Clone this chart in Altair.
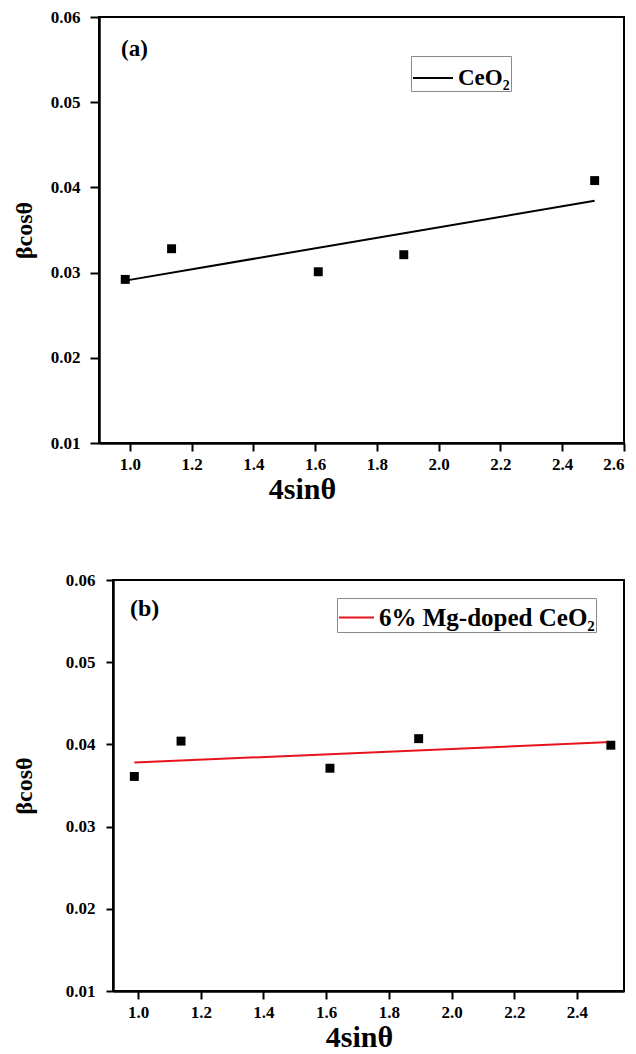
import altair as alt
import pandas as pd

# Williamson-Hall plots: 4 sin(theta) against beta cos(theta)
four_sin_ceo2 = [0.985, 1.135, 1.610, 1.887, 2.505]
beta_cos_ceo2 = [0.0292, 0.0328, 0.0301, 0.0321, 0.0408]
four_sin_mg = [0.988, 1.137, 1.612, 1.895, 2.508]
beta_cos_mg = [0.0361, 0.0404, 0.0371, 0.0407, 0.0399]

series_names = ["CeO₂", "6% Mg-doped CeO₂"]
series_colors = ["black", "#e8141c"]
panel_tags = ["(a)", "(b)"]

x_ticks_a = [1.0, 1.2, 1.4, 1.6, 1.8, 2.0, 2.2, 2.4, 2.6]
x_ticks_b = [1.0, 1.2, 1.4, 1.6, 1.8, 2.0, 2.2, 2.4]
y_ticks = [0.01, 0.02, 0.03, 0.04, 0.05, 0.06]
x_domain_a = [0.9, 2.6]
x_domain_b = [0.92, 2.55]
y_domain = [0.01, 0.06]

FONT = "Liberation Serif"


def panel(xs, ys, name, color, tag, x_domain, x_ticks, width, height,
          tick_y, lab_pad_y, title_pad_y, title_x, legend_xy, legend_font,
          legend_sym, legend_pad, tag_xy, tag_size):
    df = pd.DataFrame({"x": xs, "y": ys, "series": [name] * len(xs)})
    x_scale = alt.Scale(domain=x_domain, nice=False, zero=False)
    y_scale = alt.Scale(domain=y_domain, nice=False, zero=False)
    x_axis = alt.Axis(values=x_ticks, format=".1f", title="4sinθ",
                      tickSize=8, labelPadding=5, titlePadding=2,
                      titleFontSize=30, titleX=title_x)
    y_axis = alt.Axis(values=y_ticks, format=".2f", title="βcosθ",
                      tickSize=tick_y, labelPadding=lab_pad_y,
                      titlePadding=title_pad_y, titleFontSize=24)
    base = alt.Chart(df)

    points = base.mark_square(size=80, color="black", opacity=1).encode(
        x=alt.X("x:Q", scale=x_scale, axis=x_axis),
        y=alt.Y("y:Q", scale=y_scale, axis=y_axis),
    )

    fit = base.transform_regression(
        "x", "y", groupby=["series"]
    ).mark_line(strokeWidth=2).encode(
        x=alt.X("x:Q", scale=x_scale),
        y=alt.Y("y:Q", scale=y_scale),
        color=alt.Color(
            "series:N",
            scale=alt.Scale(domain=[name], range=[color]),
            legend=alt.Legend(
                orient="none", legendX=legend_xy[0], legendY=legend_xy[1],
                title=None, symbolType="stroke", symbolStrokeWidth=2,
                symbolSize=legend_sym, labelFont=FONT,
                labelFontSize=legend_font, labelFontWeight="bold",
                labelColor="black", strokeColor="#8a8a8a", fillColor="white",
                padding=legend_pad, labelOffset=4, labelLimit=400,
            ),
        ),
    )

    label = alt.Chart(pd.DataFrame({"tag": [tag]})).mark_text(
        align="left", baseline="middle", font=FONT, fontSize=tag_size,
        fontWeight="bold", color="black",
    ).encode(x=alt.value(tag_xy[0]), y=alt.value(tag_xy[1]), text="tag:N")

    return alt.layer(fit, points, label).properties(width=width, height=height)


def indent(chart, gap):
    # blank column that sets how far the panel sits from the left edge
    blank = alt.Chart(pd.DataFrame({"v": [0]})).mark_point(opacity=0).properties(
        width=gap, height=1, view=alt.ViewConfig(stroke="transparent")
    )
    return alt.hconcat(blank, chart, spacing=0).resolve_scale(
        color="independent"
    ).resolve_legend(color="independent")


panel_a = panel(four_sin_ceo2, beta_cos_ceo2, series_names[0], series_colors[0],
                panel_tags[0], x_domain_a, x_ticks_a, 525, 426,
                tick_y=9, lab_pad_y=10, title_pad_y=14, title_x=203,
                legend_xy=(312, 39), legend_font=23, legend_sym=1600,
                legend_pad=1, tag_xy=(22, 32), tag_size=23)

panel_b = panel(four_sin_mg, beta_cos_mg, series_names[1], series_colors[1],
                panel_tags[1], x_domain_b, x_ticks_b, 511, 411,
                tick_y=7, lab_pad_y=11, title_pad_y=29, title_x=246,
                legend_xy=(224, 18), legend_font=25, legend_sym=1225,
                legend_pad=1, tag_xy=(17, 29), tag_size=24)

chart = alt.vconcat(
    indent(panel_a, 1), indent(panel_b, 1), spacing=65
).resolve_scale(
    color="independent"
).resolve_legend(
    color="independent"
).properties(
    padding={"left": 4, "top": 7, "right": 4, "bottom": 0},
    background="white",
).configure_view(
    stroke="black", strokeWidth=2
).configure_axis(
    grid=False,
    domainColor="black", domainWidth=2.5,
    tickColor="black", tickWidth=2,
    labelFont=FONT, labelFontSize=17, labelFontWeight="bold", labelColor="black",
    titleFont=FONT, titleFontWeight="bold", titleColor="black",
)

chart.save("out.html", embed_options={"renderer": "svg", "actions": False})
